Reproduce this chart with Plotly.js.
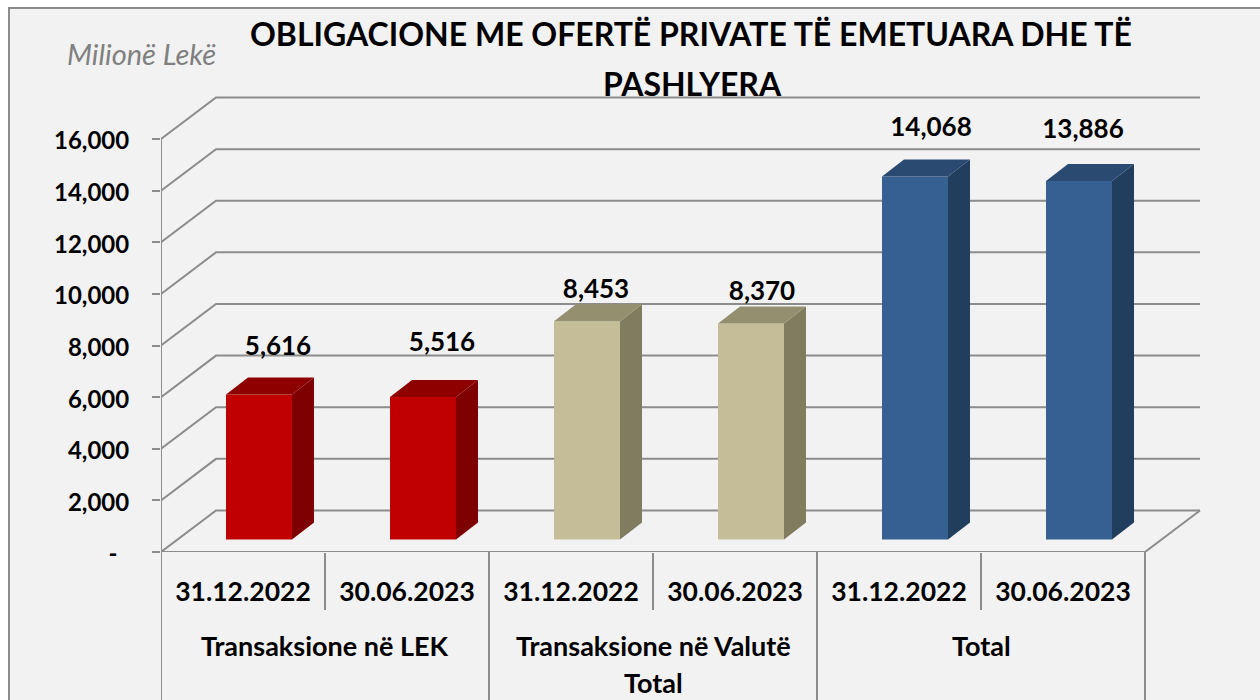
<!DOCTYPE html>
<html>
<head>
<meta charset="utf-8">
<script src="https://cdn.plot.ly/plotly-3.0.1.min.js"></script>
<style>html,body{margin:0;padding:0;background:#fff}#c{width:1260px;height:700px}</style>
</head>
<body>
<div id="c"></div>
<script>
// Data
const periods = ["31.12.2022","30.06.2023","31.12.2022","30.06.2023","31.12.2022","30.06.2023"];
const groupLines = [["Transaksione në LEK"],["Transaksione në Valutë","Total"],["Total"]];
const values = [5616,5516,8453,8370,14068,13886];
const frontColors = ["#c00000","#c00000","#c4bd97","#c4bd97","#376092","#376092"];
const sideColors  = ["#7f0000","#7f0000","#7f7c60","#7f7c60","#223e5f","#223e5f"];
const topColors   = ["#8e0000","#8e0000","#94906f","#94906f","#2b4a72","#2b4a72"];
const yTicks = [0,2000,4000,6000,8000,10000,12000,14000,16000];
const yTickText = ["-\u00A0\u00A0","2,000","4,000","6,000","8,000","10,000","12,000","14,000","16,000"];
// data label nudges in pixels, relative to each bar
const labelNudgeX = [19,19,9,11,16,4];
const labelNudgeY = [29,36,13,13,30,33];

// Layout geometry (pixels of the page)
const W=1260,H=700,L=161,R=1205,T=90,B=552;
const pxPerCat=164, pxPerVal=(551.5-139)/16000;
const ux=p=>p/pxPerCat, uy=p=>p/pxPerVal;
const wallX=ux(55), wallY=uy(41.5);     // oblique depth of the chart box
const liftX=ux(16), liftY=uy(12.5);     // bars stand inside the floor
const barW=ux(66), barDX=ux(22), barDY=uy(17);
const py=p=>(B-p)/(B-T), px=p=>(p-L)/(R-L);
const GRID="#8c8c8c";

const shapes=[{type:'rect',xref:'paper',yref:'paper',layer:'below',
  x0:px(9),x1:px(1300),y0:py(720),y1:py(8),fillcolor:'#f2f2f2',line:{color:GRID,width:2}}];
yTicks.forEach(v=>{
  shapes.push({type:'path',xref:'x',yref:'y',layer:'below',line:{color:GRID,width:2},
    path:`M0,${v} L${wallX},${v+wallY} L${6+wallX},${v+wallY}`});
});
shapes.push({type:'path',xref:'x',yref:'y',layer:'below',line:{color:GRID,width:2},
  path:`M6,0 L${6+wallX},${wallY}`});
[0,2,4,6].forEach(x=>shapes.push({type:'line',xref:'x',yref:'paper',layer:'below',
  x0:x,x1:x,y0:0,y1:py(705),line:{color:GRID,width:2}}));

const centers=values.map((_,i)=>i+0.5);
const barX=centers.map(c=>c+liftX);
const traces=[];
// axis lines
traces.push({type:'scatter',mode:'lines',x:[0,0],y:[0,16000],line:{color:GRID,width:2},cliponaxis:false,hoverinfo:'skip'});
traces.push({type:'scatter',mode:'lines',x:[0,6],y:[0,0],line:{color:GRID,width:2},cliponaxis:false,hoverinfo:'skip'});
// front faces
traces.push({type:'bar',x:barX,y:values,base:values.map(()=>liftY),width:barW,
  marker:{color:frontColors,line:{width:0}},hoverinfo:'skip'});
// side and top faces derived from the values
values.forEach((v,i)=>{
  const x1=barX[i]-barW/2,x2=barX[i]+barW/2,y0=liftY,y1=liftY+v;
  traces.push({type:'scatter',mode:'lines',fill:'toself',fillcolor:sideColors[i],line:{width:0},hoverinfo:'skip',
    x:[x2,x2+barDX,x2+barDX,x2,x2],y:[y0,y0+barDY,y1+barDY,y1,y0]});
  traces.push({type:'scatter',mode:'lines',fill:'toself',fillcolor:topColors[i],line:{width:0},hoverinfo:'skip',
    x:[x1,x1+barDX,x2+barDX,x2,x1],y:[y1,y1+barDY,y1+barDY,y1,y1]});
});
// data labels
traces.push({type:'scatter',mode:'text',x:barX.map((x,i)=>x+ux(labelNudgeX[i])),y:values.map((v,i)=>liftY+v+barDY+uy(labelNudgeY[i])),
  text:values.map(v=>v.toLocaleString('en-US')),textposition:'middle center',
  textfont:{family:'Lato',size:26,color:'#000',weight:700},cliponaxis:false,hoverinfo:'skip'});

const FONT='Lato';
const anns=[
 {text:'Milionë Lekë',xref:'paper',yref:'paper',x:px(141),y:py(53),showarrow:false,xanchor:'center',yanchor:'middle',
  font:{family:FONT,size:29,color:'#808080',style:'italic'}},
 {text:'<b>PASHLYERA</b>',xref:'paper',yref:'paper',x:px(692),y:py(83),showarrow:false,xanchor:'center',yanchor:'middle',
  font:{family:FONT,size:32,color:'#000'}}
];
groupLines.forEach((lines,g)=>lines.forEach((t,k)=>anns.push({
  text:'<b>'+t+'</b>',xref:'x',yref:'paper',x:2*g+1,y:py(645+37*k),showarrow:false,xanchor:'center',yanchor:'middle',
  font:{family:FONT,size:27,color:'#000'}})));

const layout={
  width:W,height:H,autosize:false,showlegend:false,hovermode:false,barmode:'overlay',
  paper_bgcolor:'#ffffff',plot_bgcolor:'rgba(0,0,0,0)',
  margin:{l:L,r:W-R,t:T,b:H-B,pad:0},
  title:{text:'<b>OBLIGACIONE ME OFERTË PRIVATE TË EMETUARA DHE TË</b>',x:691/W,xanchor:'center',y:1-35/H,yanchor:'middle',
    font:{family:FONT,size:32,color:'#000'}},
  xaxis:{range:[0,(R-L)/pxPerCat],showgrid:false,zeroline:false,showline:false,
    tickmode:'array',tickvals:centers,ticktext:periods,ticks:'',ticklabelstandoff:21,
    tickfont:{family:FONT,size:26.5,color:'#000',weight:700},
    minor:{tickmode:'array',tickvals:[1,3,5],ticks:'outside',ticklen:57,tickwidth:2,tickcolor:GRID,showgrid:false}},
  yaxis:{range:[0,(B-0.5-T)/pxPerVal],showgrid:false,zeroline:false,showline:false,
    tickmode:'array',tickvals:yTicks,ticktext:yTickText,ticks:'outside',ticklen:8,tickwidth:2,tickcolor:GRID,
    ticklabelstandoff:18,ticklabelshift:2,tickfont:{family:FONT,size:24,color:'#000',weight:700}},
  shapes:shapes,annotations:anns
};
Plotly.newPlot('c',traces,layout,{displayModeBar:false,staticPlot:true});
</script>
</body>
</html>
